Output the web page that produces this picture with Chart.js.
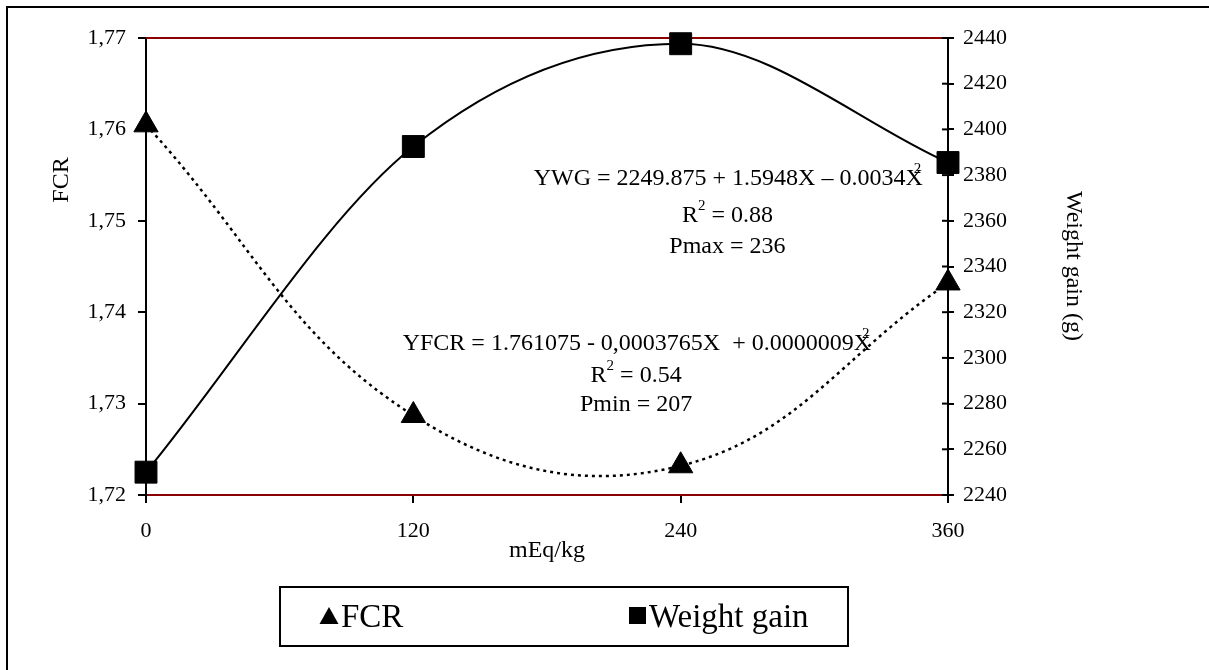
<!DOCTYPE html>
<html>
<head>
<meta charset="utf-8">
<script src="https://cdn.jsdelivr.net/npm/chart.js@4.4.0/dist/chart.umd.min.js"></script>
<style>
  html, body { margin: 0; padding: 0; background: #fff; }
</style>
</head>
<body>
<canvas id="chart" width="1209" height="670"></canvas>
<script>
// doses of the supplement (mEq/kg)
const doses = [0, 120, 240, 360]
// means
const fcrValues = [1.7605, 1.7287, 1.7232, 1.7432]
const weightGain = [2250, 2392.5, 2437.5, 2385.5]

// axis ticks
const xTicks = [0, 120, 240, 360]
const fcrTicks = [1.72, 1.73, 1.74, 1.75, 1.76, 1.77]
const wgTicks = [2240, 2260, 2280, 2300, 2320, 2340, 2360, 2380, 2400, 2420, 2440]

// regression notes, placed in data units (x = mEq/kg, y = FCR axis, baseline)
const notes = [
  { x: 261, y: 1.75392, parts: [["YWG = 2249.875 + 1.5948X – 0.0034X"], ["2", -9]] },
  { x: 261, y: 1.74987, parts: [["R"], ["2", 0], [" = 0.88"]] },
  { x: 261, y: 1.74648, parts: [["Pmax = 236"]] },
  { x: 220, y: 1.73586, parts: [["YFCR = 1.761075 - 0,0003765X  + 0.0000009X"], ["2", -9]] },
  { x: 220, y: 1.73236, parts: [["R"], ["2", 0], [" = 0.54"]] },
  { x: 220, y: 1.72919, parts: [["Pmin = 207"]] },
]

const serif = "'Liberation Serif', 'Times New Roman', serif"
Chart.defaults.font.family = serif
Chart.defaults.color = "#000"

const toPoints = (ys) => doses.map((d, i) => ({ x: d, y: ys[i] }))

function drawNote(ctx, x, y, parts) {
  const main = "24px " + serif
  const sup = "15px " + serif
  let w = 0
  parts.forEach((p) => {
    ctx.font = p.length > 1 ? sup : main
    w += ctx.measureText(p[0]).width + (p.length > 1 ? p[1] : 0)
  })
  let cx = x - w / 2
  parts.forEach((p) => {
    if (p.length > 1) {
      ctx.font = sup
      cx += p[1]
      ctx.fillText(p[0], cx, y - 12)
    } else {
      ctx.font = main
      ctx.fillText(p[0], cx, y)
    }
    cx += ctx.measureText(p[0]).width
  })
}

const frame = {
  id: "frame",
  beforeDraw(chart) {
    const ctx = chart.ctx
    ctx.save()
    ctx.fillStyle = "#fff"
    ctx.fillRect(0, 0, chart.width, chart.height)
    ctx.strokeStyle = "#000"
    ctx.lineWidth = 2
    ctx.beginPath()
    ctx.moveTo(7, chart.height)
    ctx.lineTo(7, 7)
    ctx.lineTo(chart.width, 7)
    ctx.stroke()
    ctx.restore()
  },
  beforeDatasetsDraw(chart) {
    const ctx = chart.ctx
    const a = chart.chartArea
    ctx.save()
    // top edge of plot area
    ctx.strokeStyle = "#8b0000"
    ctx.lineWidth = 2
    ctx.beginPath()
    ctx.moveTo(a.left, a.top)
    ctx.lineTo(a.right, a.top)
    ctx.stroke()
    // right axis ticks cross the axis line
    const s = chart.scales.y1
    ctx.strokeStyle = "#000"
    s.ticks.forEach((t) => {
      const py = s.getPixelForValue(t.value)
      ctx.beginPath()
      ctx.moveTo(s.left - 6, py)
      ctx.lineTo(s.left, py)
      ctx.stroke()
    })
    ctx.restore()
  },
  afterDatasetsDraw(chart) {
    const ctx = chart.ctx
    const xs = chart.scales.x
    const ys = chart.scales.y
    ctx.save()
    ctx.fillStyle = "#000"
    ctx.textAlign = "left"
    ctx.textBaseline = "alphabetic"
    notes.forEach((n) => drawNote(ctx, xs.getPixelForValue(n.x), ys.getPixelForValue(n.y), n.parts))

    // axis titles
    ctx.font = "24px " + serif
    ctx.textAlign = "center"
    ctx.textBaseline = "middle"
    ctx.fillText("mEq/kg", (xs.left + xs.right) / 2, 551)
    ctx.save()
    ctx.translate(62, 180)
    ctx.rotate(-Math.PI / 2)
    ctx.fillText("FCR", 0, 0)
    ctx.restore()
    ctx.save()
    ctx.translate(1073, 266)
    ctx.rotate(Math.PI / 2)
    ctx.fillText("Weight gain (g)", 0, 0)
    ctx.restore()

    // legend
    ctx.lineWidth = 2
    ctx.strokeStyle = "#000"
    ctx.strokeRect(280, 587, 568, 59)
    ctx.beginPath()
    ctx.moveTo(329, 607)
    ctx.lineTo(338.5, 624)
    ctx.lineTo(319.5, 624)
    ctx.closePath()
    ctx.fill()
    ctx.fillRect(629, 607, 17, 17)
    ctx.font = "33px " + serif
    ctx.textAlign = "left"
    ctx.textBaseline = "alphabetic"
    ctx.fillText(chart.data.datasets[0].label, 341, 627)
    ctx.fillText(chart.data.datasets[1].label, 649, 627)
    ctx.restore()
  },
}

const ctx = document.getElementById("chart").getContext("2d")
new Chart(ctx, {
  type: "line",
  data: {
    datasets: [
      {
        label: "FCR",
        data: toPoints(fcrValues),
        yAxisID: "y",
        borderColor: "#000",
        borderWidth: 2.5,
        borderDash: [3, 4],
        pointStyle: "triangle",
        pointRadius: 14,
        pointBackgroundColor: "#000",
        pointBorderColor: "#000",
        pointBorderWidth: 1,
        tension: 0.4,
        fill: false,
        clip: false,
      },
      {
        label: "Weight gain",
        data: toPoints(weightGain),
        yAxisID: "y1",
        borderColor: "#000",
        borderWidth: 2,
        pointStyle: "rect",
        pointRadius: 15.5,
        pointBackgroundColor: "#000",
        pointBorderColor: "#000",
        pointBorderWidth: 1,
        cubicInterpolationMode: "monotone",
        fill: false,
        clip: false,
      },
    ],
  },
  options: {
    responsive: false,
    animation: false,
    devicePixelRatio: 1,
    layout: { padding: { top: 38, left: 0, right: 0, bottom: 0 } },
    plugins: { legend: { display: false }, tooltip: { enabled: false } },
    scales: {
      x: {
        type: "linear",
        min: 0,
        max: 360,
        afterBuildTicks: (s) => { s.ticks = xTicks.map((v) => ({ value: v })) },
        afterFit: (s) => { s.height = 175 },
        grid: { drawOnChartArea: false, tickLength: 8, lineWidth: 2, color: "#000" },
        border: { color: "#8b0000", width: 2 },
        ticks: { font: { size: 22 }, padding: 15, maxRotation: 0, color: "#000", callback: (v) => String(v) },
      },
      y: {
        position: "left",
        min: 1.72,
        max: 1.77,
        afterBuildTicks: (s) => { s.ticks = fcrTicks.map((v) => ({ value: v })) },
        afterFit: (s) => { s.width = 146 },
        grid: { drawOnChartArea: false, tickLength: 8, lineWidth: 2, color: "#000" },
        border: { color: "#000", width: 2 },
        ticks: {
          font: { size: 22 },
          padding: 12,
          color: "#000",
          callback: (v) => v.toFixed(2).replace(".", ","),
        },
      },
      y1: {
        position: "right",
        min: 2240,
        max: 2440,
        afterBuildTicks: (s) => { s.ticks = wgTicks.map((v) => ({ value: v })) },
        afterFit: (s) => { s.width = 261 },
        grid: { drawOnChartArea: false, tickLength: 6, lineWidth: 2, color: "#000" },
        border: { color: "#000", width: 2 },
        ticks: { font: { size: 22 }, padding: 9, color: "#000", callback: (v) => String(v) },
      },
    },
  },
  plugins: [frame],
})
</script>
</body>
</html>
